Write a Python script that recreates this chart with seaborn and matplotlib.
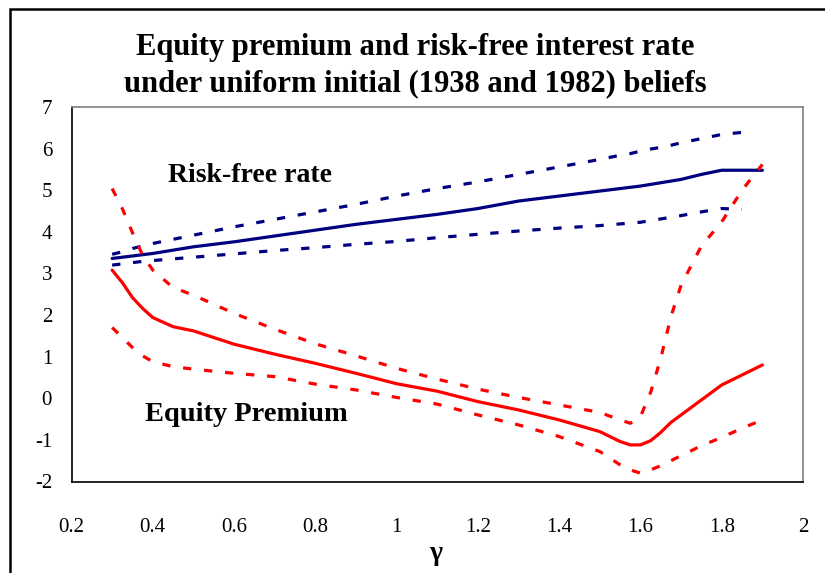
import numpy as np
import pandas as pd
import seaborn as sns
import matplotlib.pyplot as plt
from matplotlib.patches import Rectangle

# ---------------------- Data ----------------------
gamma = [0.30, 0.325, 0.35, 0.375, 0.40, 0.45, 0.50, 0.60, 0.70, 0.80,
         0.90, 1.00, 1.10, 1.20, 1.30, 1.40, 1.50, 1.55, 1.575, 1.60,
         1.625, 1.65, 1.675, 1.70, 1.75, 1.80, 1.85, 1.90]

rf_mid = [3.36, 3.39, 3.42, 3.45, 3.48, 3.56, 3.64, 3.76, 3.90, 4.04,
          4.18, 4.30, 4.42, 4.56, 4.74, 4.86, 4.98, 5.04, 5.07, 5.10,
          5.14, 5.18, 5.22, 5.26, 5.38, 5.48, 5.48, 5.48]
rf_hi = [3.46, 3.52, 3.60, 3.66, 3.72, 3.82, 3.92, 4.12, 4.30, 4.48,
         4.66, 4.86, 5.04, 5.20, 5.38, 5.56, 5.74, 5.84, 5.88, 5.94,
         5.99, 6.03, 6.08, 6.14, 6.24, 6.34, 6.39, np.nan]
rf_lo = [3.20, 3.23, 3.26, 3.29, 3.31, 3.35, 3.39, 3.47, 3.55, 3.62,
         3.70, 3.77, 3.86, 3.94, 4.02, 4.09, 4.15, 4.19, 4.21, 4.23,
         4.27, 4.31, 4.35, 4.39, 4.48, 4.56, 4.54, np.nan]

ep_mid = [3.08, 2.78, 2.42, 2.16, 1.94, 1.72, 1.62, 1.30, 1.06, 0.84,
          0.60, 0.35, 0.17, -0.08, -0.28, -0.52, -0.80, -1.04, -1.12, -1.12,
          -1.02, -0.82, -0.58, -0.40, -0.04, 0.32, 0.56, 0.80]
ep_hi = [5.04, 4.56, 3.98, 3.44, 3.08, 2.66, 2.48, 2.04, 1.66, 1.31,
         1.02, 0.72, 0.46, 0.22, 0.02, -0.16, -0.34, -0.52, -0.60, -0.44,
         0.14, 0.96, 1.96, 2.72, 3.66, 4.24, 5.00, 5.62]
ep_lo = [1.70, 1.46, 1.22, 1.02, 0.88, 0.76, 0.70, 0.60, 0.52, 0.34,
         0.20, 0.02, -0.14, -0.40, -0.64, -0.92, -1.28, -1.60, -1.72, -1.80,
         -1.72, -1.62, -1.50, -1.38, -1.14, -0.94, -0.72, -0.52]

x_ticks = [0.2, 0.4, 0.6, 0.8, 1.0, 1.2, 1.4, 1.6, 1.8, 2.0]
y_ticks = [-2, -1, 0, 1, 2, 3, 4, 5, 6, 7]

df = pd.DataFrame({"gamma": gamma, "rf_mid": rf_mid, "rf_hi": rf_hi, "rf_lo": rf_lo,
                   "ep_mid": ep_mid, "ep_hi": ep_hi, "ep_lo": ep_lo})

# ---------------------- Style ----------------------
sns.set_style("white")
plt.rcParams["font.family"] = ["Liberation Serif", "DejaVu Serif"]
plt.rcParams["text.color"] = "black"

NAVY = "#000080"
RED = "#FF0000"
DASH = (2.6, 4.0)

fig = plt.figure(figsize=(8.25, 5.73), dpi=100)
ax = fig.add_axes([71.5 / 825, 1 - 481.5 / 573, (803 - 71.5) / 825, (481.5 - 107) / 573])

series = [("rf_mid", NAVY, None), ("rf_hi", NAVY, DASH), ("rf_lo", NAVY, DASH),
          ("ep_mid", RED, None), ("ep_hi", RED, DASH), ("ep_lo", RED, DASH)]
for col, color, dash in series:
    sub = df[["gamma", col]].dropna()
    sns.lineplot(data=sub, x="gamma", y=col, ax=ax, color=color, linewidth=2.3)
    if dash is not None:
        ax.lines[-1].set_dashes(dash)
        ax.lines[-1].set_dash_capstyle("butt")

ax.set_xlim(0.2, 2.0)
ax.set_ylim(-2, 7)
ax.set_xticks(x_ticks)
ax.set_yticks(y_ticks)
ax.set_xticklabels([f"{v:g}" for v in x_ticks])
ax.set_yticklabels([f"{v:g}" for v in y_ticks])
ax.set_xlabel("")
ax.set_ylabel("")
ax.tick_params(axis="both", labelsize=15, colors="black", direction="out", length=6, width=1)
ax.tick_params(axis="x", pad=20)
ax.tick_params(axis="y", pad=8)

for side in ["top", "right"]:
    ax.spines[side].set_color("#808080")
    ax.spines[side].set_linewidth(1.2)
for side in ["left", "bottom"]:
    ax.spines[side].set_color("black")
    ax.spines[side].set_linewidth(1.2)

ax.text(0.64, 5.36, "Risk-free rate", fontsize=20, fontweight="bold", ha="center", va="center",
        color="black")
ax.text(0.63, -0.40, "Equity Premium", fontsize=20.5, fontweight="bold", ha="center", va="center",
        color="black")

fig.text(0.503, 1 - 65.5 / 573,
         "Equity premium and risk-free interest rate\nunder uniform initial (1938 and 1982) beliefs",
         ha="center", va="center", fontsize=22, fontweight="bold", linespacing=1.33, color="black")
fig.text(436 / 825, 1 - 553 / 573, "γ", ha="center", va="center", fontsize=20, fontweight="bold",
         color="black")

# outer chart frame (cropped on the right and bottom)
fig.patches.append(Rectangle((9.5 / 825, -0.1), 1.2, 1 - 9 / 573 + 0.1, transform=fig.transFigure,
                             fill=False, edgecolor="black", linewidth=1.8))

fig.savefig("out.png", dpi=100)
